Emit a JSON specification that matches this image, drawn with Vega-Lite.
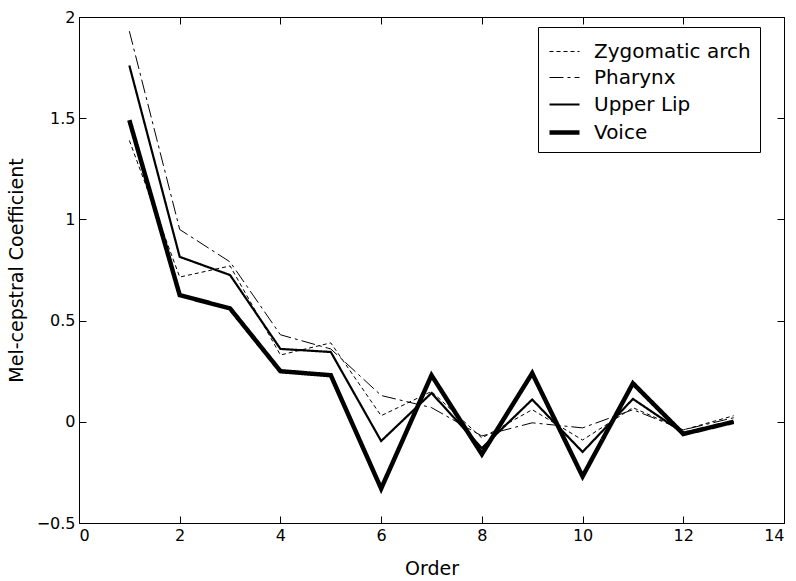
{
  "$schema": "https://vega.github.io/schema/vega-lite/v6.json",
  "autosize": "none",
  "width": 705,
  "height": 506,
  "padding": {"left": 79, "top": 17, "right": 12, "bottom": 58},
  "background": "white",
  "config": {
    "view": {"stroke": "black", "strokeWidth": 1},
    "font": "DejaVu Sans",
    "axis": {"grid": false, "domainColor": "black", "tickColor": "black", "labelColor": "black", "titleColor": "black", "labelFont": "DejaVu Sans", "titleFont": "DejaVu Sans", "labelFontSize": 16, "titleFontSize": 19, "titleFontWeight": "normal", "tickSize": -7, "labelPadding": 11, "format": "~g"},
    "legend": {"orient": "none", "legendX": 459, "legendY": 10, "strokeColor": "black", "fillColor": "white", "padding": 9, "labelFontSize": 20, "labelFont": "DejaVu Sans", "labelColor": "black", "symbolType": "stroke", "symbolSize": 900, "symbolStrokeColor": "black", "rowPadding": -12, "labelOffset": 12}
  },
  "data": {"values": [
    {"order": 1, "value": 1.39, "series": "Zygomatic arch"},
    {"order": 2, "value": 0.715, "series": "Zygomatic arch"},
    {"order": 3, "value": 0.77, "series": "Zygomatic arch"},
    {"order": 4, "value": 0.33, "series": "Zygomatic arch"},
    {"order": 5, "value": 0.39, "series": "Zygomatic arch"},
    {"order": 6, "value": 0.03, "series": "Zygomatic arch"},
    {"order": 7, "value": 0.15, "series": "Zygomatic arch"},
    {"order": 8, "value": -0.08, "series": "Zygomatic arch"},
    {"order": 9, "value": 0.06, "series": "Zygomatic arch"},
    {"order": 10, "value": -0.09, "series": "Zygomatic arch"},
    {"order": 11, "value": 0.07, "series": "Zygomatic arch"},
    {"order": 12, "value": -0.04, "series": "Zygomatic arch"},
    {"order": 13, "value": 0.03, "series": "Zygomatic arch"},
    {"order": 1, "value": 1.93, "series": "Pharynx"},
    {"order": 2, "value": 0.95, "series": "Pharynx"},
    {"order": 3, "value": 0.79, "series": "Pharynx"},
    {"order": 4, "value": 0.43, "series": "Pharynx"},
    {"order": 5, "value": 0.36, "series": "Pharynx"},
    {"order": 6, "value": 0.13, "series": "Pharynx"},
    {"order": 7, "value": 0.07, "series": "Pharynx"},
    {"order": 8, "value": -0.07, "series": "Pharynx"},
    {"order": 9, "value": -0.005, "series": "Pharynx"},
    {"order": 10, "value": -0.03, "series": "Pharynx"},
    {"order": 11, "value": 0.06, "series": "Pharynx"},
    {"order": 12, "value": -0.04, "series": "Pharynx"},
    {"order": 13, "value": 0.02, "series": "Pharynx"},
    {"order": 1, "value": 1.76, "series": "Upper Lip"},
    {"order": 2, "value": 0.815, "series": "Upper Lip"},
    {"order": 3, "value": 0.725, "series": "Upper Lip"},
    {"order": 4, "value": 0.36, "series": "Upper Lip"},
    {"order": 5, "value": 0.345, "series": "Upper Lip"},
    {"order": 6, "value": -0.095, "series": "Upper Lip"},
    {"order": 7, "value": 0.142, "series": "Upper Lip"},
    {"order": 8, "value": -0.13, "series": "Upper Lip"},
    {"order": 9, "value": 0.11, "series": "Upper Lip"},
    {"order": 10, "value": -0.149, "series": "Upper Lip"},
    {"order": 11, "value": 0.113, "series": "Upper Lip"},
    {"order": 12, "value": -0.055, "series": "Upper Lip"},
    {"order": 13, "value": 0.0, "series": "Upper Lip"},
    {"order": 1, "value": 1.49, "series": "Voice"},
    {"order": 2, "value": 0.626, "series": "Voice"},
    {"order": 3, "value": 0.56, "series": "Voice"},
    {"order": 4, "value": 0.25, "series": "Voice"},
    {"order": 5, "value": 0.23, "series": "Voice"},
    {"order": 6, "value": -0.33, "series": "Voice"},
    {"order": 7, "value": 0.23, "series": "Voice"},
    {"order": 8, "value": -0.16, "series": "Voice"},
    {"order": 9, "value": 0.24, "series": "Voice"},
    {"order": 10, "value": -0.27, "series": "Voice"},
    {"order": 11, "value": 0.19, "series": "Voice"},
    {"order": 12, "value": -0.06, "series": "Voice"},
    {"order": 13, "value": 0.0, "series": "Voice"}
  ]},
  "layer": [
    {
      "mark": {"type": "line", "color": "black", "strokeCap": "butt", "strokeJoin": "miter"},
      "encoding": {
        "x": {"field": "order", "type": "quantitative", "scale": {"domain": [0, 14], "nice": false}, "axis": {"title": "Order", "values": [0, 2, 4, 6, 8, 10, 12, 14], "titlePadding": 16}},
        "y": {"field": "value", "type": "quantitative", "scale": {"domain": [-0.5, 2], "nice": false}, "axis": {"title": "Mel-cepstral Coefficient", "values": [-0.5, 0, 0.5, 1, 1.5, 2], "titlePadding": 10}},
        "detail": {"field": "series"},
        "strokeDash": {"field": "series", "type": "nominal", "scale": {"domain": ["Zygomatic arch", "Pharynx", "Upper Lip", "Voice"], "range": [[4, 3], [14, 4, 3, 4], [1, 0], [1, 0]]}, "legend": {"title": null}},
        "strokeWidth": {"field": "series", "type": "nominal", "scale": {"type": "ordinal", "domain": ["Zygomatic arch", "Pharynx", "Upper Lip", "Voice"], "range": [1, 1, 2.2, 4.5]}, "legend": {"title": null}}
      }
    },
    {
      "mark": {"type": "rule", "opacity": 0},
      "encoding": {
        "x": {"datum": 0, "type": "quantitative", "axis": {"orient": "top", "values": [0, 2, 4, 6, 8, 10, 12, 14], "labels": false, "title": null, "domain": false}},
        "y": {"datum": 0, "type": "quantitative", "axis": {"orient": "right", "values": [-0.5, 0, 0.5, 1, 1.5, 2], "labels": false, "title": null, "domain": false}}
      }
    }
  ],
  "resolve": {"axis": {"x": "independent", "y": "independent"}}
}
